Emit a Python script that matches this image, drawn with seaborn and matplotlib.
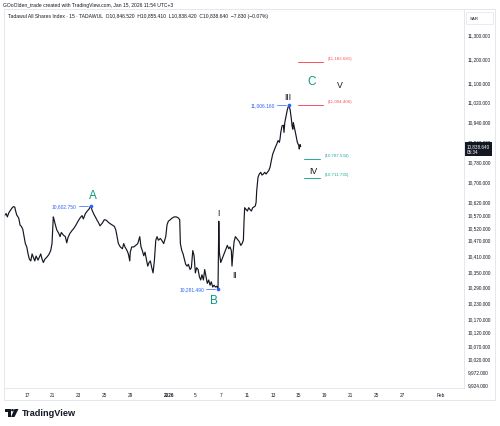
import matplotlib
matplotlib.use("Agg")
import matplotlib.pyplot as plt
import matplotlib.ticker as mticker
from matplotlib.patches import Rectangle, Circle, Polygon
import seaborn as sns
import pandas as pd

# TASI 15-min path, x = trading day counted from Sun 14 Dec 2025
days = [
    1.22, 1.38, 1.48, 1.59, 1.74, 1.84, 1.94, 2.05, 2.10, 2.20, 2.36, 2.46, 2.56, 2.67, 2.77, 2.87,
    2.98, 3.08, 3.18, 3.29, 3.39, 3.49, 3.60, 3.70, 3.85, 3.95, 4.06, 4.16, 4.26, 4.37, 4.52, 4.68,
    4.83, 4.93, 4.99, 5.03, 5.09, 5.19, 5.30, 5.45, 5.55, 5.65, 5.81, 5.96, 6.07, 6.17, 6.32, 6.48,
    6.63, 6.79, 6.94, 7.10, 7.25, 7.35, 7.51, 7.66, 7.81, 7.92, 8.02, 8.18, 8.28, 8.39, 8.54, 8.64,
    8.82, 8.97, 9.13, 9.28, 9.44, 9.59, 9.75, 9.86, 9.96, 10.06, 10.21, 10.37, 10.47, 10.57, 10.73, 10.83,
    10.94, 10.98, 11.09, 11.25, 11.40, 11.56, 11.71, 11.81, 11.91, 12.02, 12.12, 12.22, 12.33, 12.43, 12.53, 12.64,
    12.74, 12.84, 12.95, 13.05, 13.15, 13.30, 13.41, 13.56, 13.72, 13.82, 13.92, 14.07, 14.23, 14.38, 14.54, 14.69,
    14.80, 14.85, 14.96, 15.06, 15.16, 15.26, 15.37, 15.47,
    15.60, 15.70, 15.81, 15.91, 16.01, 16.11, 16.22, 16.32, 16.42, 16.52, 16.63, 16.73, 16.83, 16.93, 17.04, 17.14,
    17.24, 17.35, 17.45, 17.55, 17.66, 17.76, 17.82, 17.86, 17.97, 18.07, 18.17, 18.28, 18.38, 18.48, 18.59, 18.69,
    18.79, 18.84, 18.90, 19.00, 19.10, 19.21, 19.31, 19.41, 19.52, 19.62, 19.72, 19.77, 19.82, 19.93, 20.03, 20.13,
    20.23, 20.34, 20.44, 20.54, 20.64, 20.70, 20.75, 20.80,
    20.85, 20.95, 21.06, 21.16, 21.26, 21.37, 21.47, 21.57, 21.68, 21.78, 21.88, 21.99, 22.09, 22.19, 22.30, 22.40,
    22.50, 22.55, 22.61, 22.71, 22.81, 22.86, 22.92, 23.02, 23.12, 23.23, 23.33, 23.43, 23.48, 23.54, 23.58, 23.69,
    23.79, 23.89, 24.00, 24.04, 24.10, 24.15,
]
prices = [
    10562, 10572, 10559, 10575, 10586, 10594, 10599, 10598, 10586, 10567, 10554, 10527, 10522, 10511, 10482, 10455,
    10442, 10415, 10395, 10388, 10415, 10402, 10388, 10407, 10391, 10402, 10415, 10395, 10382, 10394, 10402, 10412,
    10428, 10455, 10522, 10559, 10548, 10528, 10508, 10495, 10482, 10498, 10488, 10482, 10458, 10479, 10495, 10506,
    10515, 10528, 10542, 10555, 10564, 10551, 10572, 10582, 10591, 10602.75, 10586, 10568, 10559, 10548, 10535, 10524,
    10535, 10548, 10546, 10538, 10532, 10527, 10522, 10508, 10482, 10455, 10442, 10435, 10455, 10442, 10428, 10415,
    10388, 10422, 10442, 10442, 10448, 10455, 10482, 10442, 10428, 10408, 10422, 10395, 10368, 10382, 10388, 10362,
    10342, 10388, 10468, 10482, 10468, 10475, 10468, 10455, 10482, 10528, 10542, 10548, 10555, 10559, 10559, 10555,
    10548, 10455, 10428, 10415, 10395, 10375, 10368, 10375,
    10355, 10362, 10428, 10408, 10342, 10362, 10355, 10328, 10315, 10335, 10315, 10355, 10328, 10302, 10315, 10295,
    10308, 10288, 10295, 10288, 10291, 10281.49, 10542, 10422, 10382, 10395, 10408, 10422, 10435, 10448, 10435, 10442,
    10428, 10368, 10408, 10462, 10482, 10475, 10468, 10462, 10448, 10455, 10468, 10542, 10595, 10588, 10582, 10595,
    10588, 10582, 10595, 10598, 10602, 10615, 10662, 10688,
    10715, 10728, 10735, 10724, 10728, 10735, 10728, 10735, 10742, 10755, 10782, 10808, 10822, 10835, 10848, 10862,
    10855, 10868, 10895, 10922, 10924, 10895, 10935, 10962, 10988, 11006.16, 10988, 10948, 10922, 10908, 10935, 10908,
    10882, 10855, 10842, 10828, 10846, 10838.64,
]

tick_days = [3, 5, 7, 9, 11, 14, 16, 18, 20, 22, 24, 26, 28, 30, 32, 35]
tick_labels = ["17", "21", "23", "25", "29", "2026", "5", "7", "11", "13", "15", "19", "21", "25", "27", "Feb"]
price_ticks = [11300, 11200, 11100, 11020, 10940, 10860, 10780, 10700, 10620, 10570, 10520,
               10470, 10410, 10350, 10290, 10230, 10170, 10120, 10070, 10020, 9972, 9924]

pivot_days = [7.92, 17.76, 23.23]
pivot_prices = [10602.75, 10281.49, 11006.16]
red_targets = [11182.681, 11004.406]
green_targets = [10787.534, 10711.735]
last_price = 10838.64

wave_text = ["A", "B", "C", "I", "II", "III", "IV", "V"]
wave_days = [8.10, 17.45, 24.99, 17.76, 19.07, 23.17, 25.10, 27.15]
wave_prices = [10645, 10238, 11105, 10578, 10334, 11039, 10744, 11092]

INK = "#131722"
BLUE = "#2962ff"
GREEN = "#089981"
RED = "#f7525f"
TEAL = "#22ab94"
GRID = "#e0e3eb"

sns.set_style("white")
plt.rcParams["font.family"] = ["Liberation Sans", "DejaVu Sans"]

W, H = 500, 427
fig = plt.figure(figsize=(W / 100, H / 100), dpi=100)


def fx(x):
    return x / W


def fy(y):
    return 1 - y / H


ax = fig.add_axes([fx(4), fy(389), (464 - 4) / W, (389 - 10) / H])

df = pd.DataFrame({"day": days, "price": prices})
sns.lineplot(data=df, x="day", y="price", ax=ax, color=INK, lw=0.85,
             estimator=None, sort=False)

ax.set_yscale("log")
ax.set_ylim(9910, 11405)
ax.set_xlim(1.22, 36.77)
ax.yaxis.set_major_locator(mticker.FixedLocator(price_ticks))
ax.yaxis.set_major_formatter(mticker.FuncFormatter(lambda v, _: f"{v:,.3f}"))
ax.yaxis.set_minor_locator(mticker.NullLocator())
ax.yaxis.tick_right()
ax.xaxis.set_major_locator(mticker.FixedLocator(tick_days))
ax.xaxis.set_major_formatter(mticker.FixedFormatter(tick_labels))
ax.xaxis.set_minor_locator(mticker.NullLocator())
ax.set_xlabel("")
ax.set_ylabel("")
ax.tick_params(axis="y", length=0, pad=2.8, labelsize=3.4, labelcolor=INK)
ax.tick_params(axis="x", length=0, pad=3.0, labelsize=3.4, labelcolor=INK)
fig.canvas.draw()
for lbl in ax.get_xticklabels():
    if lbl.get_text() == "2026":
        lbl.set_fontweight("bold")
for s in ["left", "top"]:
    ax.spines[s].set_visible(False)
for s in ["right", "bottom"]:
    ax.spines[s].set_color(GRID)
    ax.spines[s].set_linewidth(0.6)

# pivot price tags
for d, p in zip(pivot_days, pivot_prices):
    ax.plot([d], [p], marker="o", ms=1.6, color=BLUE)
    ax.plot([d - 0.93, d - 0.23], [p, p], color=BLUE, lw=0.5)
    ax.text(d - 1.08, p, f"{p:,.3f}", ha="right", va="center", fontsize=3.5, color=BLUE)

# target zones
for p in red_targets:
    ax.plot([23.94, 25.88], [p, p], color=RED, lw=0.7)
    ax.annotate(f"({p:,.3f})", xy=(26.26, p), xytext=(0, 3.2), textcoords="offset points",
                ha="left", va="center", fontsize=3.2, color=RED)
for p in green_targets:
    ax.plot([24.41, 25.64], [p, p], color=TEAL, lw=0.7)
    ax.annotate(f"({p:,.3f})", xy=(26.03, p), xytext=(0, 3.2), textcoords="offset points",
                ha="left", va="center", fontsize=3.2, color=TEAL)

# wave counts
for t, d, p in zip(wave_text, wave_days, wave_prices):
    if t in ("A", "B", "C"):
        ax.text(d, p, t, ha="center", va="center", fontsize=8.5, color=GREEN)
    else:
        ax.text(d, p, t, ha="center", va="center", fontsize=6.3, color=INK)

# last price tag
ax.annotate(f"{last_price:,.3f}\n05:34", xy=(1, last_price), xycoords=ax.get_yaxis_transform(),
            xytext=(2.2, 2.0), textcoords="offset points", ha="left", va="top",
            fontsize=3.3, color="white", linespacing=1.15, annotation_clip=False,
            bbox=dict(boxstyle="square,pad=0.35", fc=INK, ec="none"))

# outer frame and currency box
fig.add_artist(Rectangle((fx(4), fy(401)), (495 - 4) / W, (401 - 10) / H, transform=fig.transFigure,
                         fill=False, ec=GRID, lw=0.6))
fig.add_artist(Rectangle((fx(466), fy(25)), 27 / W, 12 / H, transform=fig.transFigure,
                         fill=False, ec=GRID, lw=0.5))
fig.text(fx(470), fy(19.5), "SAR", fontsize=3.2, color=INK, va="center")

fig.text(fx(3), fy(5), "GOoOlden_trade created with TradingView.com, Jan 15, 2026 11:54 UTC+3",
         fontsize=3.6, color=INK, va="center")
fig.text(fx(8), fy(16.5),
         "Tadawul All Shares Index \u00b7 15 \u00b7 TADAWUL  O10,846.520  H10,855.410  L10,838.420  "
         "C10,838.640  \u22127.830 (\u22120.07%)",
         fontsize=3.6, color=INK, va="center")

# TradingView logo
fig.add_artist(Rectangle((fx(5), fy(412.5)), 5.5 / W, 3 / H, transform=fig.transFigure, fc=INK, ec="none"))
fig.add_artist(Rectangle((fx(8), fy(418)), 2.5 / W, 8 / H, transform=fig.transFigure, fc=INK, ec="none"))
fig.add_artist(Circle((fx(12.5), fy(411.2)), 1.4 / W, transform=fig.transFigure, fc=INK, ec="none"))
fig.add_artist(Polygon([(fx(14.5), fy(410)), (fx(18.5), fy(410)), (fx(14.5), fy(418)), (fx(11), fy(418))],
                       closed=True, transform=fig.transFigure, fc=INK, ec="none"))
fig.text(fx(21.5), fy(414), "TradingView", fontsize=6.6, fontweight="bold", color=INK, va="center")

fig.savefig("out.png", dpi=100)
